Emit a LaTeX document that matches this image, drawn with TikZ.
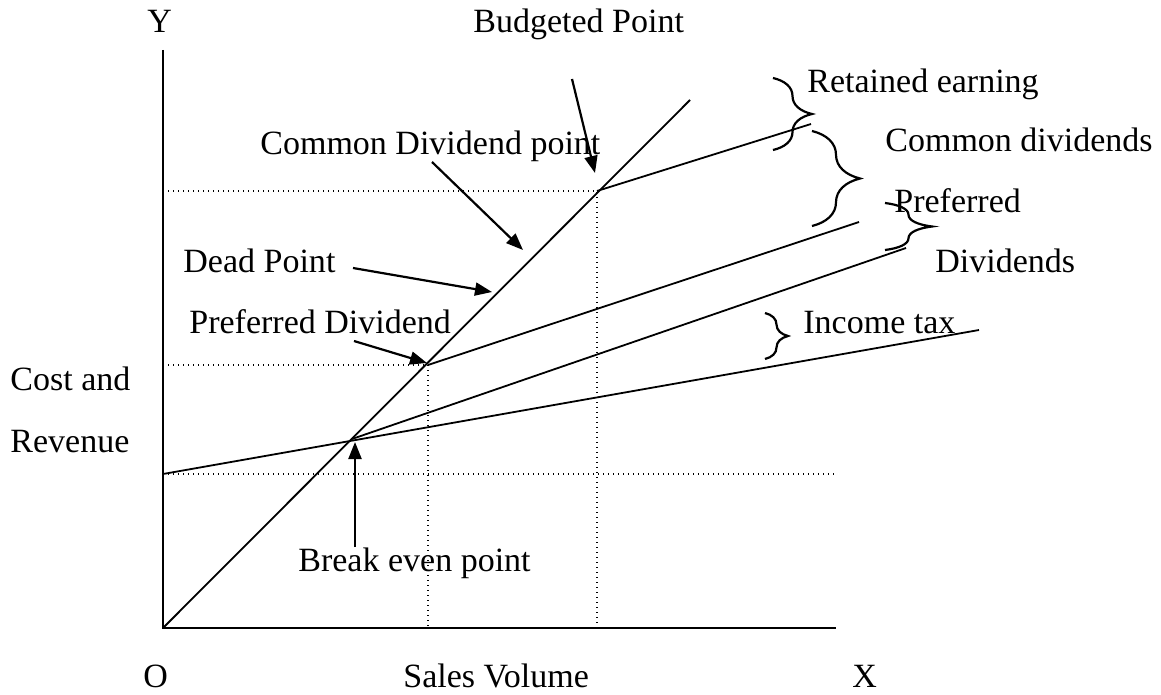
\documentclass[tikz,border=0pt]{standalone}
\usepackage{fontspec}
\setmainfont{Liberation Serif}
\usetikzlibrary{arrows.meta,decorations.pathreplacing}

\tikzset{
  lbl/.style={anchor=base west, inner sep=0pt, font=\fontsize{17}{20}\selectfont},
  axis/.style={line width=1.1pt},
  guide/.style={line width=0.7pt, dash pattern=on 0.7pt off 1.8pt},
  costline/.style={line width=0.9pt},
  pointer/.style={line width=1.1pt, -{Triangle[length=8.5pt,width=6.5pt]}},
  bracemark/.style={line width=1.1pt, decorate, decoration={brace, amplitude=#1}},
}

\begin{document}
\begin{tikzpicture}[x=0.5pt,y=-0.5pt]
  \useasboundingbox (0,0) rectangle (1161,695);

  % key points
  \coordinate (O) at (163,628);
  \coordinate (ytop) at (163,50);
  \coordinate (xend) at (836,628);
  \coordinate (fc) at (163,474);
  \coordinate (be) at (352,439);
  \coordinate (pd) at (428,365);
  \coordinate (bp) at (597,191);
  \coordinate (revend) at (690,100);
  \coordinate (taxend) at (979,330);
  \coordinate (prefend) at (906,248);
  \coordinate (commend) at (859,222);
  \coordinate (retend) at (811,124);

  % axes
  \draw[axis] (ytop) -- (O) -- (xend);

  % guides
  \draw[guide] (fc) -- (fc -| xend);
  \draw[guide] (O |- pd) -- (pd) -- (pd |- O);
  \draw[guide] (O |- bp) -- (bp) -- (bp |- O);

  % revenue and cost lines
  \draw[costline] (O) -- (revend);
  \draw[costline] (fc) -- (taxend);
  \draw[costline] (be) -- (prefend);
  \draw[costline] (pd) -- (commend);
  \draw[costline] (bp) -- (retend);

  % labels
  \node[lbl] (ylab) at (147,33) {Y};
  \node[lbl] (budlab) at (473,33) {Budgeted Point};
  \node[lbl] (cdlab) at (260,155) {Common Dividend point};
  \node[lbl] (relab) at (807,93) {Retained earning};
  \node[lbl] (cdivlab) at (885,152) {Common dividends};
  \node[lbl] (prlab) at (894,213) {Preferred};
  \node[lbl] (divlab) at (935,272) {Dividends};
  \node[lbl] (deadlab) at (183,272) {Dead Point};
  \node[lbl] (pdlab) at (189,333) {Preferred Dividend};
  \node[lbl] (taxlab) at (803,333) {Income tax};
  \node[lbl] (costlab) at (10,390) {Cost and};
  \node[lbl] (revlab) at (10,452) {Revenue};
  \node[lbl] (belab) at (298,571) {Break even point};
  \node[lbl] (olab) at (143,687) {O};
  \node[lbl] (svlab) at (403,687) {Sales Volume};
  \node[lbl] (xlab) at (852,687) {X};

  % braces
  \draw[bracemark=19.5pt] (773,78) -- (773,150);
  \draw[bracemark=24pt] (812,131) -- (812,226);
  \draw[bracemark=23.5pt] (885,203) -- (885,250);
  \draw[bracemark=11.5pt] (765,313) -- (765,359);

  % pointers
  \coordinate (budtail) at (572,79);
  \coordinate (budhead) at (595,173);
  \coordinate (cdtail) at (432,162);
  \coordinate (cdhead) at (523,250);
  \coordinate (deadtail) at (353,268);
  \coordinate (deadhead) at (492,292);
  \coordinate (pdtail) at (354,341);
  \coordinate (pdhead) at (427,363);
  \coordinate (betail) at (355,547);
  \coordinate (behead) at (355,442);
  \draw[pointer] (budtail) -- (budhead);
  \draw[pointer] (cdtail) -- (cdhead);
  \draw[pointer] (deadtail) -- (deadhead);
  \draw[pointer] (pdtail) -- (pdhead);
  \draw[pointer] (betail) -- (behead);
\end{tikzpicture}
\end{document}
